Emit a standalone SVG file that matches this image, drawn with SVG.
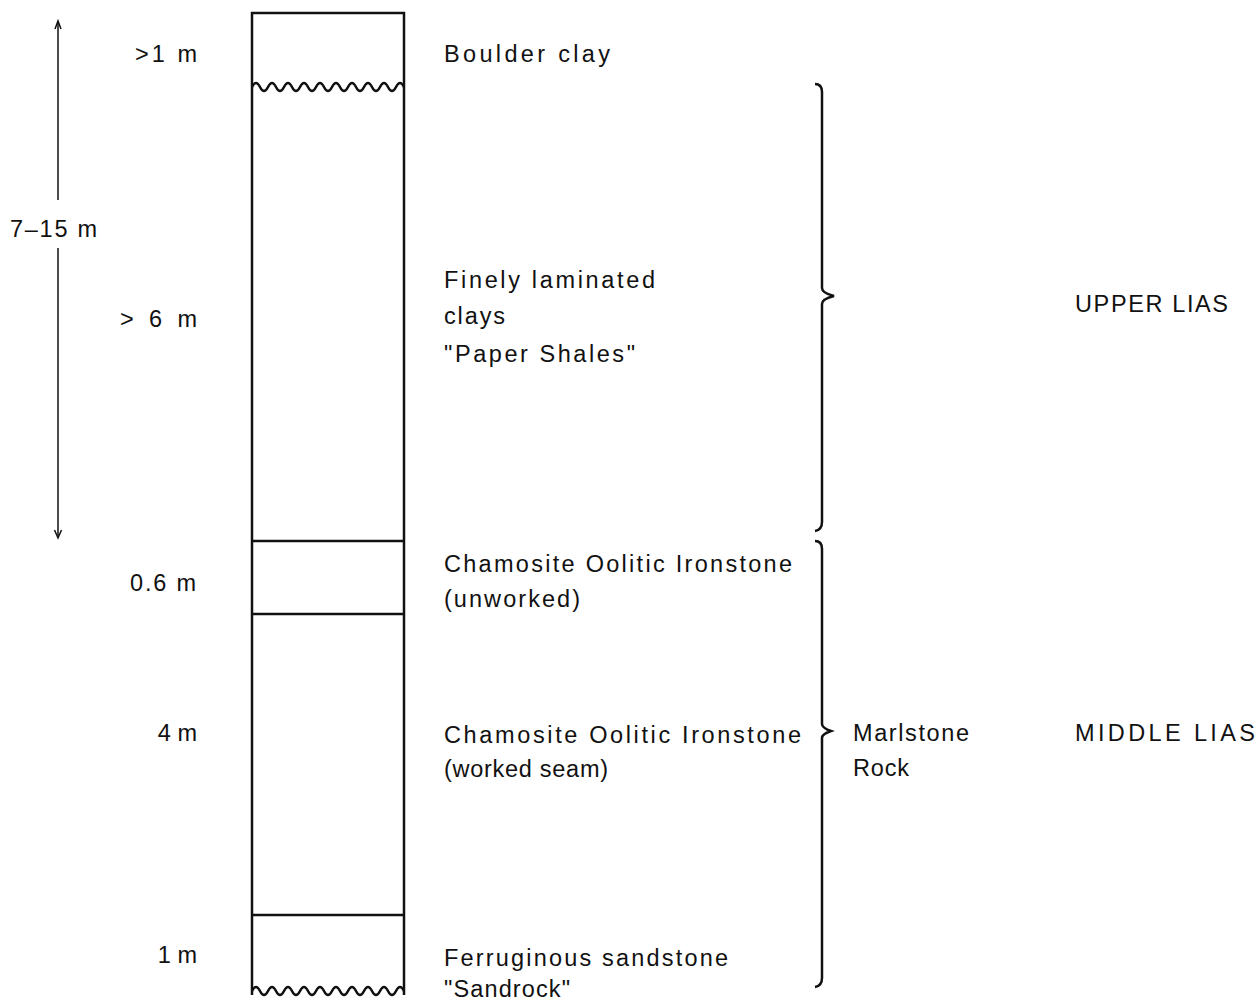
<svg xmlns="http://www.w3.org/2000/svg" width="1258" height="1001" viewBox="0 0 1258 1001">
<style>
text{font-family:"Liberation Sans","DejaVu Sans",sans-serif;font-size:23.5px;fill:#111}
.ln{stroke:#111;stroke-width:2.5;fill:none}
.thin{stroke:#111;stroke-width:1.5;fill:none}
</style>
<g id="column">
<path class="ln" d="M252,995 V13 H404 V995"/>
<path class="ln" d="M252,87 q4,-8 8,0 q4,8 8,0 q4,-8 8,0 q4,8 8,0 q4,-8 8,0 q4,8 8,0 q4,-8 8,0 q4,8 8,0 q4,-8 8,0 q4,8 8,0 q4,-8 8,0 q4,8 8,0 q4,-8 8,0 q4,8 8,0 q4,-8 8,0 q4,8 8,0 q4,-8 8,0 q4,8 8,0 q4,-8 8,0"/>
<line class="ln" x1="252" y1="541" x2="404" y2="541"/>
<line class="ln" x1="252" y1="614" x2="404" y2="614"/>
<line class="ln" x1="252" y1="915" x2="404" y2="915"/>
<path class="ln" d="M252,991 q4,-8 8,0 q4,8 8,0 q4,-8 8,0 q4,8 8,0 q4,-8 8,0 q4,8 8,0 q4,-8 8,0 q4,8 8,0 q4,-8 8,0 q4,8 8,0 q4,-8 8,0 q4,8 8,0 q4,-8 8,0 q4,8 8,0 q4,-8 8,0 q4,8 8,0 q4,-8 8,0 q4,8 8,0 q4,-8 8,0"/>
</g>
<g id="connectors">
<line class="thin" x1="58" y1="22" x2="58" y2="200"/>
<path class="thin" d="M55,29 L58,21 L61,29"/>
<line class="thin" x1="58" y1="248" x2="58" y2="537"/>
<path class="thin" d="M54.5,530 L58,538 L61.5,530"/>
<path class="ln" d="M815,84 q7,0 7,8 V288 q0,5 12,8 q-12,3 -12,8 V522 q0,8 -7,9"/>
<path class="ln" d="M815,541 q7,0 7,8 V724 q0,4 9,7 q-9,3 -9,7 V978 q0,8 -7,9"/>
</g>
<g id="left-labels">
<text x="135" y="62" textLength="62" lengthAdjust="spacing">&gt;1 m</text>
<text x="10" y="237" textLength="87" lengthAdjust="spacing">7–15 m</text>
<text x="120" y="327" textLength="77" lengthAdjust="spacing">&gt; 6 m</text>
<text x="130" y="591" textLength="66" lengthAdjust="spacing">0.6 m</text>
<text x="197" y="741" text-anchor="end">4 m</text>
<text x="197" y="963" text-anchor="end">1 m</text>
</g>
<g id="boulder-clay"><text x="444" y="62" textLength="166" lengthAdjust="spacing">Boulder clay</text></g>
<g id="paper-shales">
<text x="444" y="288" textLength="211" lengthAdjust="spacing">Finely laminated</text>
<text x="444" y="324" textLength="61" lengthAdjust="spacing">clays</text>
<text x="444" y="362" textLength="191" lengthAdjust="spacing">"Paper Shales"</text>
</g>
<g id="unworked">
<text x="444" y="572" textLength="348" lengthAdjust="spacing">Chamosite Oolitic Ironstone</text>
<text x="444" y="607" textLength="136" lengthAdjust="spacing">(unworked)</text>
</g>
<g id="worked">
<text x="444" y="743" textLength="357" lengthAdjust="spacing">Chamosite Oolitic Ironstone</text>
<text x="444" y="777" textLength="164" lengthAdjust="spacing">(worked seam)</text>
</g>
<g id="sandrock">
<text x="444" y="966" textLength="284" lengthAdjust="spacing">Ferruginous sandstone</text>
<text x="444" y="997" textLength="126" lengthAdjust="spacing">"Sandrock"</text>
</g>
<g id="marlstone">
<text x="853" y="741" textLength="116" lengthAdjust="spacing">Marlstone</text>
<text x="853" y="776" textLength="56" lengthAdjust="spacing">Rock</text>
</g>
<g id="upper-lias"><text x="1075" y="312" textLength="153" lengthAdjust="spacing">UPPER LIAS</text></g>
<g id="middle-lias"><text x="1075" y="741" textLength="180" lengthAdjust="spacing">MIDDLE LIAS</text></g>
</svg>
